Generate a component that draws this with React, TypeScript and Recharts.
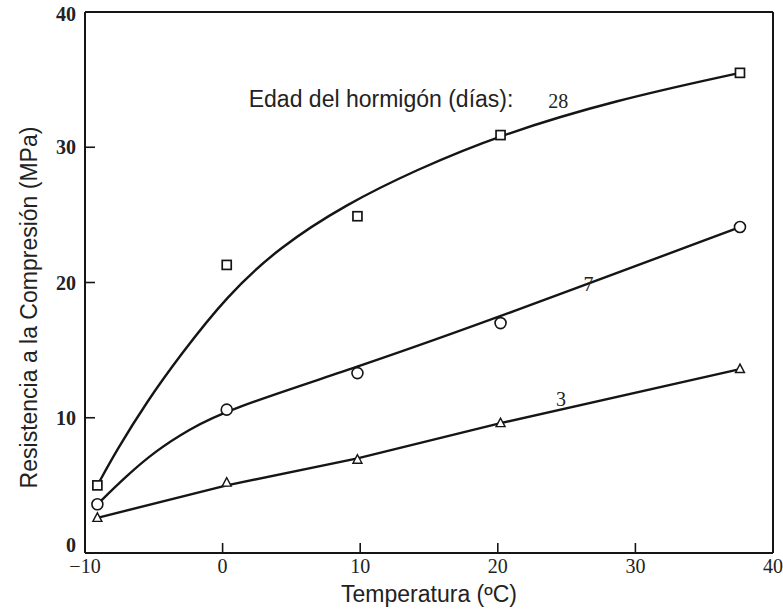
import React from 'react';
import { ComposedChart, Line, Scatter, XAxis, YAxis, Label, ReferenceDot } from 'recharts';

// Measured points (temperature °C, compressive strength MPa)
const temperatures = [-9.1, 0.3, 9.8, 20.2, 37.6];
const strength28 = [5.0, 21.3, 24.9, 30.9, 35.5];
const strength7 = [3.6, 10.6, 13.3, 17.0, 24.1];
const strength3 = [2.6, 5.2, 6.9, 9.6, 13.6];

// Fitted curves
const fit28Temps = [-9.1, -7.7, -5.5, -3.1, 0.3, 4.1, 9.0, 14.0, 20.1, 28.6, 37.6];
const fit28Vals = [5.0, 7.6, 11.2, 14.6, 19.0, 22.6, 25.8, 28.3, 30.9, 33.5, 35.5];
const fit7Temps = [-9.1, -7.0, -4.8, -2.5, 0.3, 10.0, 20.0, 37.6];
const fit7Vals = [3.6, 5.7, 7.6, 9.1, 10.6, 13.8, 17.4, 24.1];
const fit3Temps = [-9.1, 0.3, 9.8, 20.2, 37.6];
const fit3Vals = [2.6, 5.0, 7.0, 9.6, 13.6];

const xTicks = [-10, 0, 10, 20, 30, 40];
const yTicks = [0, 10, 20, 30, 40];

const annotationTexts = ['Edad del hormigón (días):', '28', '7', '3'];
const annotationTemps = [1.9, 24.4, 26.6, 24.6];
const annotationVals = [33.0, 32.9, 19.4, 10.9];

const toPts = (ts: number[], vs: number[]) => ts.map((t, i) => ({ t, v: vs[i] }));
const pts28 = toPts(temperatures, strength28);
const pts7 = toPts(temperatures, strength7);
const pts3 = toPts(temperatures, strength3);
const curve28 = toPts(fit28Temps, fit28Vals);
const curve7 = toPts(fit7Temps, fit7Vals);
const curve3 = toPts(fit3Temps, fit3Vals);

const INK = '#151515';
const TEXT = '#222';
const SANS = '"Liberation Sans", Arial, sans-serif';
const SERIF = '"Liberation Serif", "Times New Roman", serif';

const SquareMark = (p: any) => (
  <rect x={p.cx - 4.5} y={p.cy - 4.5} width={9} height={9} fill="#fff" stroke={INK} strokeWidth={1.7} />
);
const CircleMark = (p: any) => (
  <circle cx={p.cx} cy={p.cy} r={5.5} fill="#fff" stroke={INK} strokeWidth={1.6} />
);
const TriangleMark = (p: any) => (
  <polygon
    points={`${p.cx},${p.cy - 5} ${p.cx - 4.5},${p.cy + 3.5} ${p.cx + 4.5},${p.cy + 3.5}`}
    fill="#fff"
    stroke={INK}
    strokeWidth={1.4}
  />
);

const LeftTick = (props: any) => {
  const { x, y, payload } = props;
  const v = payload.value;
  const dy = v === 0 ? -8 : v === 40 ? 2 : 0;
  return (
    <g>
      {v !== 0 && v !== 40 && <line x1={x} y1={y} x2={x + 10} y2={y} stroke={INK} strokeWidth={1.6} />}
      <text x={x - 9} y={y + dy} textAnchor="end" dominantBaseline="central" fontFamily={SERIF} fontWeight="bold" fontSize={20} fill={TEXT}>
        {v}
      </text>
    </g>
  );
};

const BottomTick = (props: any) => {
  const { x, y, payload } = props;
  const v = payload.value;
  const label = v < 0 ? `\u2212${Math.abs(v)}` : `${v}`;
  return (
    <g>
      {v !== -10 && v !== 40 && <line x1={x} y1={y} x2={x} y2={y - 10} stroke={INK} strokeWidth={1.6} />}
      <text x={x} y={y + 13} textAnchor="middle" dominantBaseline="central" fontFamily={SERIF} fontSize={20} fill={TEXT}>
        {label}
      </text>
    </g>
  );
};

const TopTick = (props: any) => {
  const { x, y, payload } = props;
  const v = payload.value;
  if (v === -10 || v === 40) return <g />;
  return <line x1={x} y1={y} x2={x} y2={y + 7} stroke={INK} strokeWidth={1.3} />;
};

const RightTick = (props: any) => {
  const { x, y, payload } = props;
  const v = payload.value;
  if (v === 0 || v === 40) return <g />;
  return <line x1={x} y1={y} x2={x - 7} y2={y} stroke={INK} strokeWidth={1.3} />;
};

const XTitle = (p: any) => {
  const vb = p.viewBox || { x: 85, y: 553, width: 688, height: 59 };
  return (
    <text x={vb.x + vb.width / 2} y={vb.y + vb.height - 10} textAnchor="middle" fontFamily={SANS} fontSize={23} fill={TEXT}>
      Temperatura (ºC)
    </text>
  );
};

const YTitle = (p: any) => {
  const vb = p.viewBox || { x: 0, y: 12, width: 85, height: 541 };
  const cx = vb.x + 37;
  const cy = vb.y + vb.height / 2 + 25;
  return (
    <text x={cx} y={cy} transform={`rotate(-90 ${cx} ${cy})`} textAnchor="middle" fontFamily={SANS} fontSize={23} fill={TEXT}>
      Resistencia a la Compresión (MPa)
    </text>
  );
};

const makeAnno = (i: number) => (p: any) => {
  const vb = p.viewBox || { x: 0, y: 0, width: 0, height: 0 };
  const cx = vb.x + (vb.width || 0) / 2;
  const cy = vb.y + (vb.height || 0) / 2;
  const isTitle = i === 0;
  return (
    <text
      x={cx}
      y={cy}
      textAnchor={isTitle ? 'start' : 'middle'}
      fontFamily={isTitle ? SANS : SERIF}
      fontSize={isTitle ? 23 : 20}
      fill={TEXT}
    >
      {annotationTexts[i]}
    </text>
  );
};

export default function App() {
  return (
    <div style={{ position: 'absolute', left: 0, top: 0, width: 783, height: 612, background: '#fff' }}>
      <ComposedChart width={783} height={612} margin={{ top: 11, right: 9, bottom: 0, left: 0 }}>
        <XAxis
          xAxisId="b"
          type="number"
          dataKey="t"
          domain={[-10, 40]}
          ticks={xTicks}
          height={59}
          axisLine={{ stroke: INK, strokeWidth: 2 }}
          tickLine={false}
          tickSize={0}
          tickMargin={0}
          tick={<BottomTick />}
          interval={0}
        >
          <Label content={XTitle} />
        </XAxis>
        <XAxis
          xAxisId="t"
          orientation="top"
          type="number"
          dataKey="t"
          domain={[-10, 40]}
          ticks={xTicks}
          height={1}
          axisLine={{ stroke: INK, strokeWidth: 2 }}
          tickLine={false}
          tickSize={0}
          tickMargin={0}
          tick={<TopTick />}
          interval={0}
        />
        <YAxis
          yAxisId="l"
          type="number"
          domain={[0, 40]}
          ticks={yTicks}
          width={85}
          axisLine={{ stroke: INK, strokeWidth: 2 }}
          tickLine={false}
          tickSize={0}
          tickMargin={0}
          tick={<LeftTick />}
          interval={0}
        >
          <Label content={YTitle} />
        </YAxis>
        <YAxis
          yAxisId="r"
          orientation="right"
          type="number"
          domain={[0, 40]}
          ticks={yTicks}
          width={1}
          axisLine={{ stroke: INK, strokeWidth: 2 }}
          tickLine={false}
          tickSize={0}
          tickMargin={0}
          tick={<RightTick />}
          interval={0}
        />

        <Line data={curve28} dataKey="v" xAxisId="b" yAxisId="l" type="basis" stroke={INK} strokeWidth={2.4} dot={false} activeDot={false} isAnimationActive={false} />
        <Line data={curve7} dataKey="v" xAxisId="b" yAxisId="l" type="basis" stroke={INK} strokeWidth={2.4} dot={false} activeDot={false} isAnimationActive={false} />
        <Line data={curve3} dataKey="v" xAxisId="b" yAxisId="l" type="linear" stroke={INK} strokeWidth={2.4} dot={false} activeDot={false} isAnimationActive={false} />

        <Scatter data={pts28} dataKey="v" xAxisId="b" yAxisId="l" shape={SquareMark} isAnimationActive={false} />
        <Scatter data={pts7} dataKey="v" xAxisId="b" yAxisId="l" shape={CircleMark} isAnimationActive={false} />
        <Scatter data={pts3} dataKey="v" xAxisId="b" yAxisId="l" shape={TriangleMark} isAnimationActive={false} />

        {annotationTexts.map((_, i) => (
          <ReferenceDot
            key={i}
            x={annotationTemps[i]}
            y={annotationVals[i]}
            xAxisId="b"
            yAxisId="l"
            r={0}
            fill="none"
            stroke="none"
            ifOverflow="visible"
            label={makeAnno(i)}
          />
        ))}
      </ComposedChart>
    </div>
  );
}
